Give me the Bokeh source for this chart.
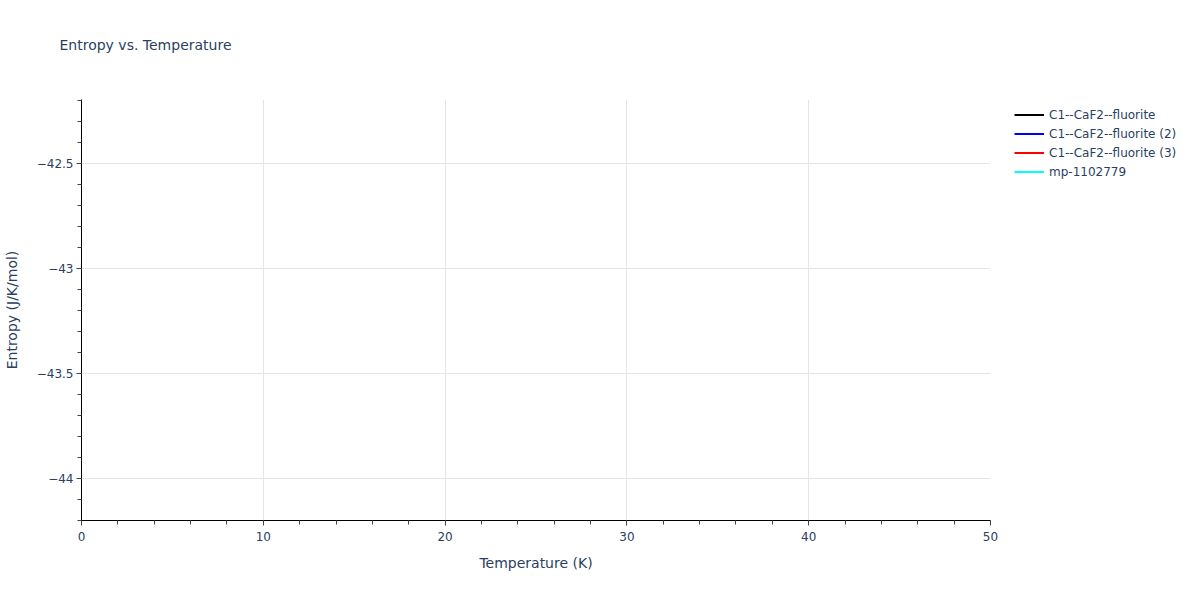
from bokeh.plotting import figure
from bokeh.models import (Range1d, SingleIntervalTicker, Legend, LegendItem,
                          CustomJSTickFormatter, ColumnDataSource, Title)
from bokeh.embed import file_html
from bokeh.resources import INLINE

nan = float("nan")

# ---- data (no point of any series falls inside the visible window) ----
series_names = ["C1--CaF2--fluorite", "C1--CaF2--fluorite (2)",
                "C1--CaF2--fluorite (3)", "mp-1102779"]
series_colors = ["black", "blue", "red", "cyan"]
temperature_k = [[nan], [nan], [nan], [nan]]
entropy_j_k_mol = [[nan], [nan], [nan], [nan]]

x_range = (0, 50)
y_range = (-44.2, -42.195)

FONT = "DejaVu Sans"
TXT = "#2a3f5f"

FRAME_W = 909
FRAME_H = 421

p = figure(frame_width=FRAME_W, frame_height=FRAME_H, output_backend="svg",
           toolbar_location=None,
           x_range=Range1d(*x_range), y_range=Range1d(*y_range),
           min_border_left=81, min_border_right=200, min_border_top=99,
           min_border_bottom=70)
p.outline_line_color = None
p.background_fill_color = "white"
p.title.text = ""

# spacer (closest to the frame) then the real title above it
spacer = Title(text=" ", text_font=FONT, text_font_size="14px", standoff=29)
p.add_layout(spacer, "above")
main_title = Title(text="Entropy vs. Temperature", text_font=FONT,
                   text_font_size="14px", text_font_style="normal",
                   text_color=TXT, align="left", offset=-22, standoff=0)
p.add_layout(main_title, "above")

renderers = []
for name, col, xs, ys in zip(series_names, series_colors, temperature_k, entropy_j_k_mol):
    src = ColumnDataSource(dict(x=xs, y=ys))
    r = p.line("x", "y", source=src, line_color=col, line_width=2)
    renderers.append((name, r))

legend = Legend(items=[LegendItem(label=n, renderers=[r]) for n, r in renderers],
                location=(24, FRAME_H - 86 + 4))
legend.border_line_color = None
legend.background_fill_alpha = 0
legend.margin = 0
legend.padding = 5
legend.spacing = 0
legend.glyph_width = 30
legend.glyph_height = 19
legend.label_height = 19
legend.label_standoff = 5
legend.label_text_font = FONT
legend.label_text_font_size = "12px"
legend.label_text_color = TXT
p.add_layout(legend, "right")

for ax in (p.xaxis, p.yaxis):
    ax.axis_line_color = "black"
    ax.axis_line_width = 1
    ax.major_tick_line_color = "#444444"
    ax.minor_tick_line_color = "#444444"
    ax.major_tick_in = 0
    ax.major_tick_out = 5
    ax.minor_tick_in = 0
    ax.minor_tick_out = 4
    ax.major_label_text_font = FONT
    ax.major_label_text_font_size = "12px"
    ax.major_label_text_color = TXT
    ax.axis_label_text_font = FONT
    ax.axis_label_text_font_size = "14px"
    ax.axis_label_text_font_style = "normal"
    ax.axis_label_text_color = TXT

p.xaxis.ticker = SingleIntervalTicker(interval=10, num_minor_ticks=5)
p.yaxis.ticker = SingleIntervalTicker(interval=0.5, num_minor_ticks=5)
p.yaxis.formatter = CustomJSTickFormatter(code="return String(tick).replace('-', '\u2212');")
p.xaxis.axis_label = "Temperature (K)"
p.yaxis.axis_label = "Entropy (J/K/mol)"
p.xaxis.major_label_standoff = 6
p.yaxis.major_label_standoff = 3
p.xaxis.axis_label_standoff = 11
p.yaxis.axis_label_standoff = 14

p.xgrid.ticker = p.xaxis.ticker
p.ygrid.ticker = p.yaxis.ticker
p.xgrid.grid_line_color = "#e5e5e5"
p.ygrid.grid_line_color = "#e5e5e5"
p.xgrid.grid_line_width = 1
p.ygrid.grid_line_width = 1

open("out.html", "w").write(file_html(p, INLINE))
